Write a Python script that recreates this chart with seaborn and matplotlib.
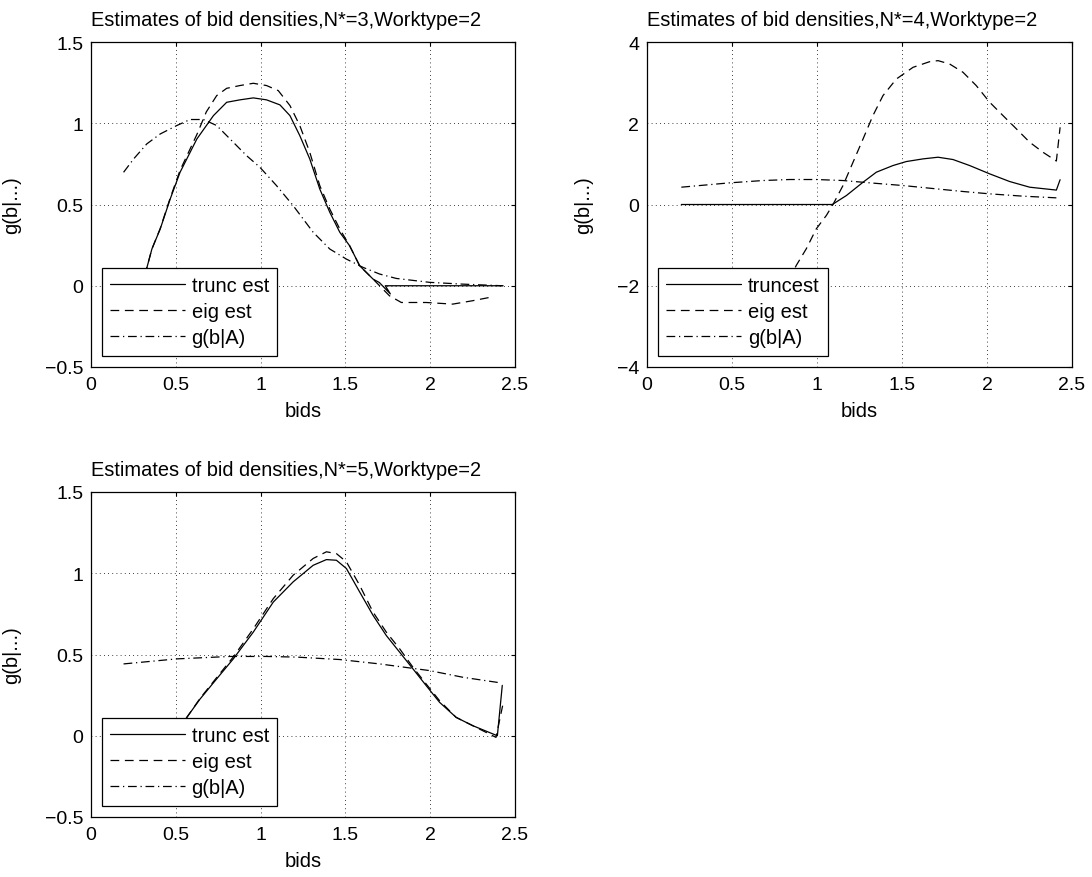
"""Bid density estimates for N*=3,4,5 (Worktype=2), MATLAB-style panels."""

import matplotlib
matplotlib.use("Agg")
import matplotlib.pyplot as plt
import seaborn as sns

sns.set_style("white")
plt.rcParams.update({
    "font.family": ["Liberation Sans", "DejaVu Sans"],
    "font.size": 14.5,
    "axes.linewidth": 0.9,
    "xtick.direction": "in", "ytick.direction": "in",
    "xtick.top": True, "ytick.right": True,
    "xtick.major.size": 3, "ytick.major.size": 3,
    "xtick.major.pad": 6.5, "ytick.major.pad": 5.5,
    "xtick.labelsize": 14, "ytick.labelsize": 14,
    "xtick.color": "black", "ytick.color": "black",
    "text.color": "black", "axes.labelcolor": "black",
})

# ---- N*=3 ----
n3_trunc_x = [0.25, 0.33, 0.359, 0.408, 0.467, 0.525, 0.624, 0.722, 0.80, 0.878, 0.957, 1.035,
              1.114, 1.173, 1.231, 1.29, 1.349, 1.408, 1.467, 1.525, 1.584, 1.663, 1.70,
              1.765, 1.735, 2.43]
n3_trunc_y = [-0.1, 0.113, 0.226, 0.349, 0.534, 0.698, 0.903, 1.047, 1.129, 1.144, 1.156, 1.144,
              1.113, 1.047, 0.924, 0.78, 0.595, 0.452, 0.329, 0.246, 0.123, 0.041, 0.02,
              -0.05, 0.0, 0.0]
n3_eig_x = [0.25, 0.33, 0.359, 0.408, 0.467, 0.525, 0.624, 0.68, 0.741, 0.80, 0.878, 0.957,
            1.035, 1.104, 1.173, 1.231, 1.29, 1.349, 1.408, 1.467, 1.525, 1.584, 1.663, 1.76,
            1.83, 1.976, 2.133, 2.251, 2.369]
n3_eig_y = [-0.1, 0.113, 0.226, 0.352, 0.54, 0.71, 0.93, 1.07, 1.17, 1.215, 1.232, 1.246,
            1.232, 1.201, 1.109, 0.986, 0.821, 0.616, 0.472, 0.349, 0.246, 0.123, 0.041,
            -0.062, -0.103, -0.103, -0.113, -0.092, -0.068]
n3_g_x = [0.192, 0.251, 0.329, 0.408, 0.506, 0.584, 0.663, 0.741, 0.82, 0.918, 0.996, 1.094,
          1.192, 1.31, 1.408, 1.506, 1.604, 1.702, 1.80, 1.996, 2.192, 2.427]
n3_g_y = [0.698, 0.78, 0.873, 0.934, 0.986, 1.023, 1.023, 0.986, 0.903, 0.80, 0.729, 0.616,
          0.493, 0.329, 0.226, 0.164, 0.113, 0.072, 0.045, 0.021, 0.01, 0.0]

# ---- N*=4 ----
n4_trunc_x = [0.202, 1.09, 1.173, 1.271, 1.349, 1.447, 1.525, 1.624, 1.712, 1.80, 1.898, 2.016,
              2.133, 2.251, 2.408, 2.43]
n4_trunc_y = [0.0, 0.0, 0.221, 0.549, 0.795, 0.959, 1.057, 1.123, 1.164, 1.107, 0.959, 0.754,
              0.566, 0.426, 0.355, 0.61]
n4_eig_x = [0.76, 0.878, 0.937, 0.996, 1.055, 1.094, 1.153, 1.212, 1.271, 1.329, 1.388, 1.467,
            1.565, 1.663, 1.712, 1.78, 1.859, 1.937, 2.016, 2.094, 2.173, 2.251, 2.329, 2.408,
            2.43]
n4_eig_y = [-2.5, -1.5, -1.09, -0.598, -0.27, 0.0, 0.467, 1.041, 1.615, 2.189, 2.68, 3.09,
            3.377, 3.516, 3.541, 3.459, 3.254, 2.926, 2.516, 2.189, 1.861, 1.533, 1.287, 1.07,
            1.9]
n4_g_x = [0.202, 0.486, 0.682, 0.839, 0.996, 1.153, 1.31, 1.506, 1.702, 1.859, 2.016, 2.212,
          2.408]
n4_g_y = [0.426, 0.533, 0.59, 0.615, 0.615, 0.59, 0.533, 0.467, 0.385, 0.32, 0.262, 0.205,
          0.164]

# ---- N*=5 ----
n5_trunc_x = [0.48, 0.565, 0.643, 0.741, 0.839, 0.957, 1.075, 1.192, 1.31, 1.388, 1.447, 1.506,
              1.584, 1.663, 1.741, 1.82, 1.898, 1.976, 2.055, 2.153, 2.251, 2.396, 2.425]
n5_trunc_y = [-0.05, 0.113, 0.226, 0.35, 0.473, 0.638, 0.823, 0.947, 1.049, 1.084, 1.08, 1.029,
              0.885, 0.741, 0.617, 0.514, 0.412, 0.309, 0.206, 0.113, 0.062, 0.0, 0.31]
n5_eig_x = [0.48, 0.565, 0.643, 0.741, 0.839, 0.957, 1.075, 1.192, 1.31, 1.388, 1.447, 1.506,
            1.584, 1.663, 1.741, 1.82, 1.898, 1.976, 2.055, 2.153, 2.251, 2.388, 2.427]
n5_eig_y = [-0.05, 0.113, 0.23, 0.358, 0.485, 0.658, 0.844, 0.988, 1.091, 1.132, 1.121, 1.07,
            0.926, 0.761, 0.638, 0.535, 0.422, 0.319, 0.216, 0.113, 0.062, -0.01, 0.185]
n5_g_x = [0.192, 0.506, 0.82, 1.035, 1.212, 1.467, 1.702, 1.996, 2.192, 2.418]
n5_g_y = [0.442, 0.473, 0.488, 0.488, 0.484, 0.469, 0.442, 0.401, 0.36, 0.325]

W, H = 1092, 878
STYLES = {"solid": "-", "dash": (0, (7, 4.5)), "dashdot": (0, (7, 3, 1, 3))}


def fmt(v):
    return ("%g" % v).replace("-", "\u2212")


def draw_panel(ax, title, series, ylim, yticks):
    for (x, y, label, style) in series:
        sns.lineplot(x=x, y=y, sort=False, estimator=None, ax=ax, color="black",
                     linewidth=0.9, linestyle=STYLES[style], label=label)
    ax.set_xlim(0, 2.5)
    ax.set_ylim(*ylim)
    xt = [0, 0.5, 1, 1.5, 2, 2.5]
    ax.set_xticks(xt)
    ax.set_xticklabels([fmt(v) for v in xt])
    ax.set_yticks(yticks)
    ax.set_yticklabels([fmt(v) for v in yticks])
    ax.grid(True, color="black", linestyle=(0, (1, 4)), linewidth=0.6)
    for sp in ax.spines.values():
        sp.set_color("black")
    t = ax.set_title(title, fontsize=14.4, pad=12)
    t.set_x(0.46)
    ax.set_xlabel("bids", labelpad=6)
    ax.set_ylabel("g(b|...)", labelpad=17)
    leg = ax.legend(loc="lower left", bbox_to_anchor=(0.025, 0.034), frameon=True,
                    fancybox=False, framealpha=1, edgecolor="black",
                    handlelength=3.7, handletextpad=0.35, borderpad=0.42, labelspacing=0.36,
                    borderaxespad=0.0)
    leg.get_frame().set_linewidth(0.9)
    leg.set_zorder(5)


fig = plt.figure(figsize=(W / 100, H / 100), dpi=100)
ax1 = fig.add_axes([91 / W, 1 - 368 / H, 424 / W, 325 / H])
ax2 = fig.add_axes([647 / W, 1 - 368 / H, 425 / W, 325 / H])
ax3 = fig.add_axes([91 / W, 1 - 818 / H, 424 / W, 325 / H])

draw_panel(ax1, "Estimates of bid densities,N*=3,Worktype=2",
           [(n3_trunc_x, n3_trunc_y, "trunc est", "solid"),
            (n3_eig_x, n3_eig_y, "eig est", "dash"),
            (n3_g_x, n3_g_y, "g(b|A)", "dashdot")],
           (-0.5, 1.5), [-0.5, 0, 0.5, 1, 1.5])
draw_panel(ax2, "Estimates of bid densities,N*=4,Worktype=2",
           [(n4_trunc_x, n4_trunc_y, "truncest", "solid"),
            (n4_eig_x, n4_eig_y, "eig est", "dash"),
            (n4_g_x, n4_g_y, "g(b|A)", "dashdot")],
           (-4, 4), [-4, -2, 0, 2, 4])
draw_panel(ax3, "Estimates of bid densities,N*=5,Worktype=2",
           [(n5_trunc_x, n5_trunc_y, "trunc est", "solid"),
            (n5_eig_x, n5_eig_y, "eig est", "dash"),
            (n5_g_x, n5_g_y, "g(b|A)", "dashdot")],
           (-0.5, 1.5), [-0.5, 0, 0.5, 1, 1.5])

fig.savefig("out.png", dpi=100)
